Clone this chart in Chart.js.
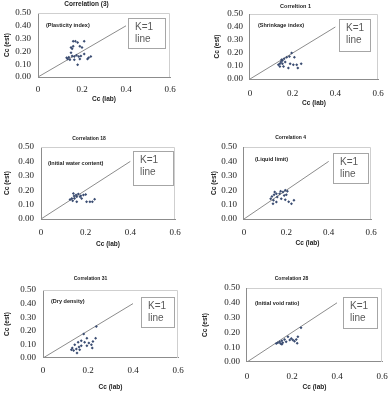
<!DOCTYPE html>
<html>
<head>
<meta charset="utf-8">
<script src="https://cdn.jsdelivr.net/npm/chart.js@4/dist/chart.umd.min.js"></script>
<style>
  html, body { margin: 0; padding: 0; background: #fff; }
  body { width: 389px; height: 393px; position: relative; overflow: hidden; }
  canvas { position: absolute; }
</style>
</head>
<body>
<canvas id="c3"></canvas>
<canvas id="c1"></canvas>
<canvas id="c18"></canvas>
<canvas id="c4"></canvas>
<canvas id="c31"></canvas>
<canvas id="c28"></canvas>
<script>
// Data: Cc (lab) vs Cc (est)
const lab3  = [0.16,0.17,0.18,0.21,0.19,0.20,0.15,0.16,0.155,0.15,0.155,0.165,0.14,0.13,0.135,0.145,0.165,0.185,0.195,0.21,0.225,0.24,0.23,0.18,0.19,0.175];
const est3  = [0.28,0.28,0.27,0.28,0.24,0.23,0.23,0.24,0.22,0.19,0.165,0.16,0.155,0.15,0.14,0.135,0.135,0.16,0.165,0.18,0.14,0.16,0.15,0.095,0.14,0.17];

const lab1  = [0.195,0.185,0.172,0.16,0.152,0.145,0.14,0.133,0.152,0.165,0.157,0.18,0.188,0.203,0.219,0.24,0.224,0.208,0.14,0.148];
const est1  = [0.20,0.173,0.168,0.155,0.143,0.13,0.117,0.11,0.117,0.13,0.097,0.084,0.117,0.11,0.11,0.117,0.084,0.168,0.097,0.148];

const lab18 = [0.145,0.157,0.167,0.178,0.19,0.20,0.16,0.15,0.138,0.13,0.142,0.16,0.182,0.204,0.219,0.23,0.24,0.148,0.175];
const est18 = [0.177,0.166,0.173,0.161,0.166,0.17,0.154,0.143,0.143,0.136,0.127,0.12,0.143,0.12,0.12,0.12,0.138,0.159,0.154];

const lab4  = [0.145,0.153,0.142,0.132,0.126,0.139,0.153,0.137,0.168,0.173,0.184,0.195,0.205,0.19,0.176,0.195,0.211,0.224,0.236,0.157,0.20];
const est4  = [0.187,0.176,0.169,0.157,0.141,0.13,0.118,0.106,0.176,0.192,0.187,0.199,0.192,0.164,0.141,0.134,0.12,0.106,0.13,0.153,0.169];

const lab31 = [0.237,0.181,0.195,0.17,0.156,0.185,0.204,0.222,0.234,0.215,0.219,0.141,0.13,0.148,0.16,0.136,0.163,0.151,0.17,0.195,0.126];
const est31 = [0.232,0.176,0.146,0.127,0.115,0.115,0.11,0.122,0.146,0.098,0.073,0.098,0.073,0.066,0.08,0.056,0.061,0.037,0.09,0.09,0.061];

const lab28 = [0.24,0.182,0.197,0.204,0.219,0.226,0.223,0.167,0.155,0.145,0.137,0.149,0.159,0.174,0.13,0.155,0.19,0.211];
const est28 = [0.232,0.17,0.159,0.148,0.152,0.17,0.127,0.152,0.143,0.136,0.13,0.125,0.13,0.136,0.125,0.12,0.148,0.141];

// K=1 reference line
const kLab = [0, 0.4];
const kEst = [0, 0.4];

// panel layout (page pixels)
const panels = [
  { id: "c3",  title: "Correlation (3)", note: "(Plasticity index)", lab: lab3, est: est3,
    cell: [0, 0, 195, 130], L: 38, R: 170, T: 13, B: 77, titleY: 4, tickY: 89, labelY: 99, ylabX: 7,
    noteXY: [46, 25], box: [128, 18, 37, 30], titleSize: 6.5 },
  { id: "c1",  title: "Correltion 1", note: "(Shrinkage index)", lab: lab1, est: est1,
    cell: [195, 0, 194, 130], L: 250, R: 378, T: 14, B: 79, titleY: 6, tickY: 93, labelY: 103, ylabX: 217,
    noteXY: [258, 25], box: [339, 19, 31, 32], titleSize: 5.5 },
  { id: "c18", title: "Correlation 18", note: "(Initial water content)", lab: lab18, est: est18,
    cell: [0, 130, 195, 130], L: 41, R: 175, T: 147, B: 219, titleY: 139, tickY: 232, labelY: 244, ylabX: 7,
    noteXY: [48, 163], box: [133, 151, 40, 34], titleSize: 5 },
  { id: "c4",  title: "Correlation 4", note: "(Liquid limit)", lab: lab4, est: est4,
    cell: [195, 130, 194, 130], L: 244, R: 371, T: 147, B: 219, titleY: 138, tickY: 232, labelY: 243, ylabX: 214,
    noteXY: [255, 159], box: [333, 153, 35, 30], titleSize: 5 },
  { id: "c31", title: "Correlation 31", note: "(Dry density)", lab: lab31, est: est31,
    cell: [0, 260, 195, 133], L: 43, R: 178, T: 290, B: 358, titleY: 279, tickY: 370, labelY: 387, ylabX: 7,
    noteXY: [51, 301], box: [141, 297, 33, 30], titleSize: 5 },
  { id: "c28", title: "Correlation 28", note: "(Initial void ratio)", lab: lab28, est: est28,
    cell: [195, 260, 194, 133], L: 247, R: 382, T: 288, B: 362, titleY: 279, tickY: 376, labelY: 387, ylabX: 205,
    noteXY: [255, 303], box: [343, 297, 34, 31], titleSize: 5 }
];

const sans = "'Liberation Sans', Arial, sans-serif";
const serif = "'Liberation Serif', 'Times New Roman', serif";
const axisTitleSize = 6.5;
const lh = axisTitleSize * 1.2;

// frame, note and K=1 box
const extras = {
  id: "extras",
  beforeDatasetsDraw(chart) {
    const { ctx, chartArea: a } = chart;
    ctx.save();
    ctx.strokeStyle = "#cfcfcf";
    ctx.lineWidth = 1;
    ctx.beginPath();
    ctx.moveTo(a.left, a.top + 0.5);
    ctx.lineTo(a.right - 0.5, a.top + 0.5);
    ctx.lineTo(a.right - 0.5, a.bottom);
    ctx.stroke();
    ctx.restore();
  },
  afterDatasetsDraw(chart) {
    const p = chart.options.plugins.extras;
    const { ctx } = chart;
    const ox = p.cell[0], oy = p.cell[1];
    ctx.save();
    ctx.fillStyle = "#222";
    ctx.font = "bold 5.5px " + sans;
    ctx.textBaseline = "middle";
    ctx.fillText(p.note, p.noteXY[0] - ox, p.noteXY[1] - oy);

    const [bx, by, bw, bh] = p.box;
    ctx.fillStyle = "#fff";
    ctx.fillRect(bx - ox, by - oy, bw, bh);
    ctx.strokeStyle = "#a6a6a6";
    ctx.lineWidth = 1;
    ctx.strokeRect(bx - ox + 0.5, by - oy + 0.5, bw, bh);
    ctx.fillStyle = "#595959";
    ctx.font = "10px " + sans;
    ctx.fillText("K=1", bx - ox + 7, by - oy + 9);
    ctx.fillText("line", bx - ox + 7, by - oy + 21);
    ctx.restore();
  }
};

panels.forEach(p => {
  const [cx, cy, cw, ch] = p.cell;
  const cv = document.getElementById(p.id);
  cv.style.left = cx + "px";
  cv.style.top = cy + "px";
  cv.style.width = cw + "px";
  cv.style.height = ch + "px";

  const tlh = p.titleSize * 1.2;
  const yAxisW = p.L - p.ylabX + lh / 2;
  const xAxisH = p.labelY - p.B + lh / 2;

  new Chart(cv, {
    type: "scatter",
    data: {
      datasets: [
        {
          data: p.lab.map((v, i) => ({ x: v, y: p.est[i] })),
          pointStyle: "rectRot",
          pointRadius: 1.5,
          backgroundColor: "#3b4d72",
          borderColor: "#3b4d72",
          borderWidth: 0
        },
        {
          type: "line",
          data: kLab.map((v, i) => ({ x: v, y: kEst[i] })),
          borderColor: "#8c8c8c",
          borderWidth: 1,
          pointRadius: 0
        }
      ]
    },
    options: {
      responsive: false,
      animation: false,
      devicePixelRatio: 1,
      layout: {
        padding: {
          left: p.ylabX - lh / 2 - cx,
          right: cx + cw - p.R,
          top: 0,
          bottom: cy + ch - (p.labelY + lh / 2)
        }
      },
      plugins: {
        legend: { display: false },
        tooltip: { enabled: false },
        title: {
          display: true,
          text: p.title,
          color: "#222",
          font: { family: sans, size: p.titleSize, weight: "bold" },
          padding: { top: p.titleY - cy - tlh / 2, bottom: p.T - p.titleY - tlh / 2 }
        },
        extras: p
      },
      scales: {
        x: {
          type: "linear",
          min: 0, max: 0.6,
          grid: { display: false, drawTicks: false },
          border: { color: "#8c8c8c" },
          ticks: {
            stepSize: 0.2,
            maxRotation: 0,
            autoSkip: false,
            padding: p.tickY - p.B - 5,
            color: "#222",
            font: { family: serif, size: 9 },
            callback: v => v === 0 ? "0" : +v.toFixed(1) + ""
          },
          title: {
            display: true,
            text: "Cc (lab)",
            color: "#222",
            padding: 0,
            font: { family: sans, size: axisTitleSize, weight: "bold" }
          },
          afterFit: s => { s.height = xAxisH; s.paddingLeft = 0; s.paddingRight = 0; }
        },
        y: {
          type: "linear",
          min: 0, max: 0.5,
          grid: { display: false, drawTicks: false },
          border: { color: "#8c8c8c" },
          ticks: {
            stepSize: 0.1,
            autoSkip: false,
            padding: 7,
            color: "#222",
            font: { family: serif, size: 9 },
            callback: v => v.toFixed(2)
          },
          title: {
            display: true,
            text: "Cc (est)",
            color: "#222",
            padding: 0,
            font: { family: sans, size: axisTitleSize, weight: "bold" }
          },
          afterFit: s => { s.width = yAxisW; s.paddingTop = 0; s.paddingBottom = 0; }
        }
      }
    },
    plugins: [extras]
  });
});
</script>
</body>
</html>
